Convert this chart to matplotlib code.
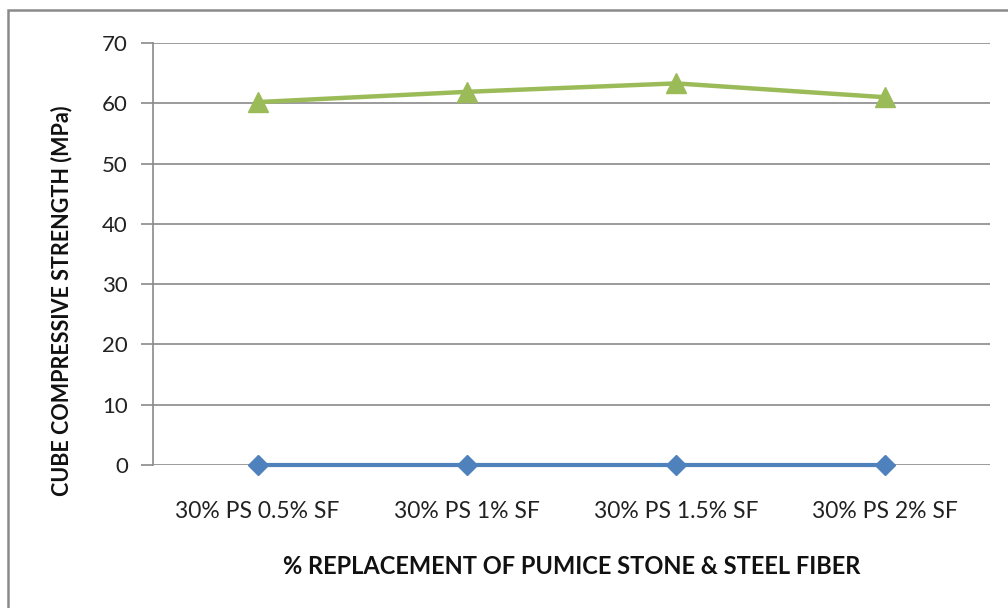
import matplotlib
matplotlib.use("Agg")
import matplotlib.pyplot as plt
from matplotlib.patches import Rectangle

# compressive strength results (MPa)
mixes = ["30% PS 0.5% SF", "30% PS 1% SF", "30% PS 1.5% SF", "30% PS 2% SF"]
series_low = [0, 0, 0, 0]
series_high = [60.2, 61.9, 63.3, 61.0]

plt.rcParams['font.family'] = ['Lato', 'DejaVu Sans']

W, H = 1008, 608
fig = plt.figure(figsize=(W / 100, H / 100), dpi=100)

# outer chart frame, runs off the right and bottom edges
fig.patches.append(Rectangle((8 / W, -0.1), 1.2, 1 - 10 / H + 0.1,
                             transform=fig.transFigure, fill=False,
                             edgecolor="#8a8a8a", linewidth=1.8))

ax = fig.add_axes([153 / W, 1 - 465 / H, (990 - 153) / W, (465 - 43) / H])
x = range(len(mixes))

ax.plot(x, series_low, color="#4F81BD", linewidth=3, marker="D",
        markersize=10, clip_on=False, zorder=3)
ax.plot(x, series_high, color="#9BBB59", linewidth=3.2, marker="^",
        markersize=15, clip_on=False, zorder=3)

ax.set_xlim(-0.5, 3.5)
ax.set_ylim(0, 70)
ax.set_yticks(range(0, 71, 10))
ax.set_xticks(list(x))
ax.set_xticklabels(mixes, fontsize=16.5, color="#222222")
ax.tick_params(axis="y", labelsize=16, colors="#222222", length=9,
               color="#8a8a8a", width=1.2, pad=9)
ax.tick_params(axis="x", length=0, pad=26)
ax.yaxis.grid(True, color="#8a8a8a", linewidth=1.2)
ax.set_axisbelow(True)

for s in ["top", "right", "bottom"]:
    ax.spines[s].set_visible(False)
ax.spines["left"].set_color("#8a8a8a")
ax.spines["left"].set_linewidth(1.2)

fig.text(62 / W, 1 - 301 / H, "CUBE COMPRESSIVE STRENGTH (MPa)",
         rotation=90, ha="center", va="center", fontsize=15.5,
         fontweight="bold", color="#111111")
fig.text(572 / W, 1 - 566 / H, "% REPLACEMENT OF PUMICE STONE & STEEL FIBER",
         ha="center", va="center", fontsize=17, fontweight="bold",
         color="#111111")

fig.savefig("out.png", dpi=100, facecolor="white")
